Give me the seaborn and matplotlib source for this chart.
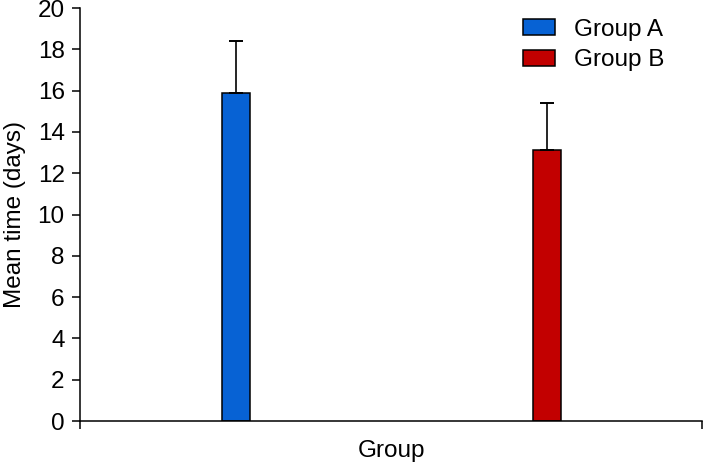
import matplotlib
matplotlib.use("Agg")
import matplotlib.pyplot as plt
import seaborn as sns
import pandas as pd

groups = ["Group A", "Group B"]
means = [15.9, 13.1]
errors = [2.5, 2.3]
colors = ["#0762d4", "#c20000"]

sns.set_style("ticks")
plt.rcParams["font.family"] = ["Liberation Sans", "DejaVu Sans"]
plt.rcParams["text.color"] = "black"
plt.rcParams["axes.labelcolor"] = "black"
plt.rcParams["xtick.color"] = "black"
plt.rcParams["ytick.color"] = "black"
plt.rcParams["axes.edgecolor"] = "black"

df = pd.DataFrame({"group": groups, "mean": means})

fig = plt.figure(figsize=(7.03, 4.63), dpi=100)
ax = fig.add_axes([0.1138, 0.0907, 0.8848, 0.892])

sns.barplot(data=df, x="group", y="mean", hue="group", palette=colors,
            saturation=1, dodge=False, width=0.09, edgecolor="black",
            linewidth=1.1, legend=False, ax=ax)

# upper-only error bars
ax.errorbar(range(len(groups)), means, yerr=[[0, 0], errors], fmt="none",
            ecolor="black", elinewidth=1.2, capsize=4.7, capthick=1.4)

ax.set_xlim(-0.5, 1.5)
ax.set_ylim(0, 20)
ax.set_yticks(range(0, 21, 2))
ax.set_xticks([-0.5, 1.5])
ax.set_xticklabels([])
ax.tick_params(axis="x", direction="out", length=6, width=1.1)
ax.tick_params(axis="y", direction="out", length=6, width=1.1, labelsize=17.5, pad=5)
for s in ["left", "bottom"]:
    ax.spines[s].set_linewidth(1.1)
sns.despine(ax=ax)

ax.set_xlabel("Group", fontsize=17.5, labelpad=4)
ax.set_ylabel("Mean time (days)", fontsize=17.5, labelpad=8)

handles = [plt.Rectangle((0, 0), 1, 1, facecolor=c, edgecolor="black", linewidth=1.1)
           for c in colors]
ax.legend(handles, groups, loc="upper left", bbox_to_anchor=(0.744, 0.96),
          bbox_transform=fig.transFigure, borderaxespad=0, borderpad=0,
          frameon=False, fontsize=17.5, handlelength=1.3, handleheight=0.62,
          labelspacing=0.36, handletextpad=0.8)

fig.savefig("out.png", dpi=100)
